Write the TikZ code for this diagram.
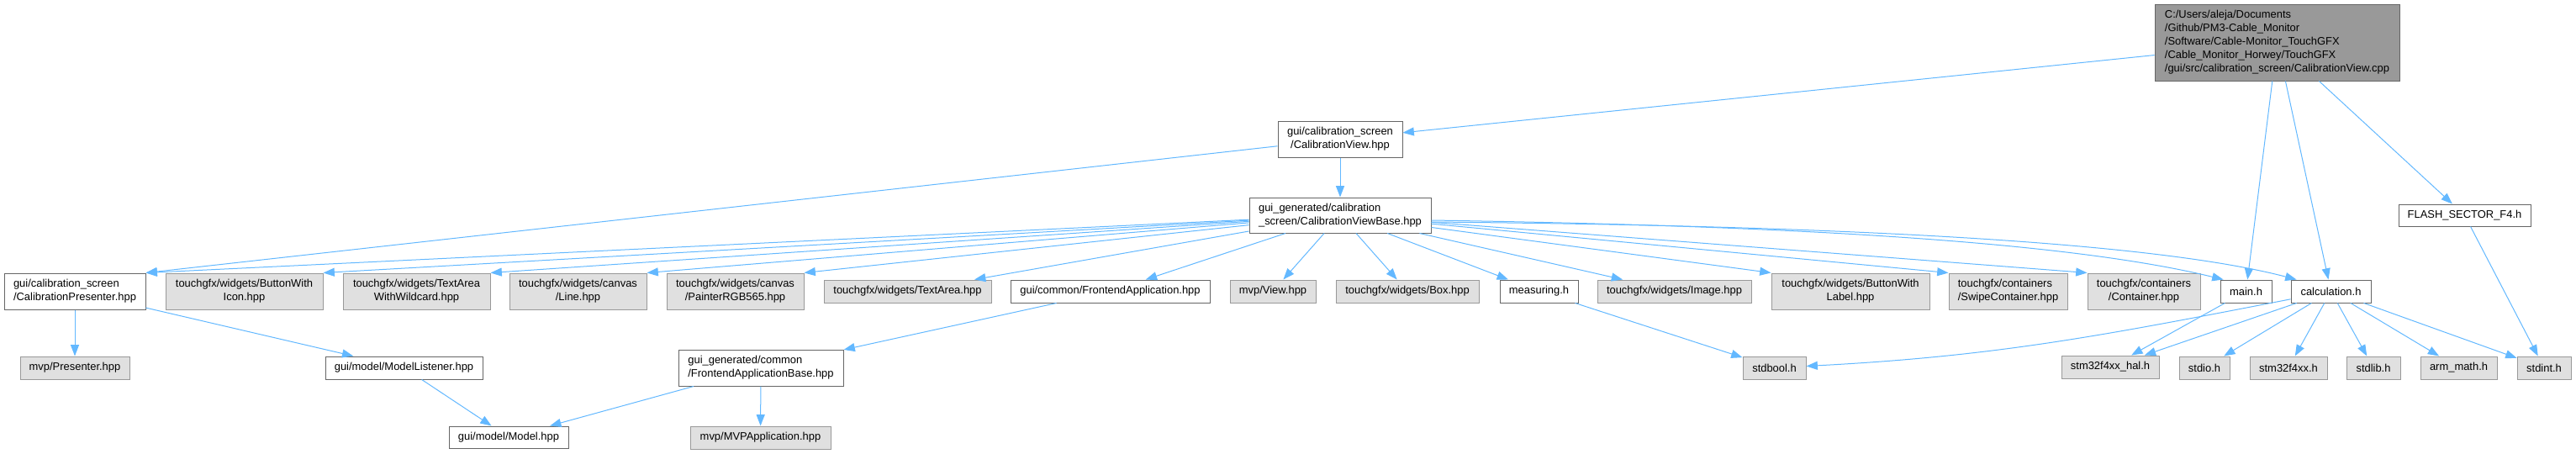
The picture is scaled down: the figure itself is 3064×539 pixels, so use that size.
\documentclass[tikz,border=0pt]{standalone}
\usepackage{fontspec}
\setmainfont{Liberation Sans}
\usetikzlibrary{arrows.meta,calc}
\definecolor{edgec}{HTML}{63B8FF}
\definecolor{grayfill}{HTML}{E0E0E0}
\definecolor{grayline}{HTML}{999999}
\definecolor{darkline}{HTML}{666666}
\definecolor{rootfill}{HTML}{999999}
\newcommand{\bx}[7]{\node[#6, minimum width={(#4-#2)*0.75pt}, minimum height={(#5-#3)*0.75pt}] (#1) at ({(#2+#4)/2},{(#3+#5)/2}) {#7};}
\tikzset{
  nodebase/.style={draw, line width=0.75pt, inner sep=0pt, font=\fontsize{9.7}{12}\selectfont},
  wbox/.style={nodebase, draw=darkline, fill=white, align=center},
  wboxl/.style={nodebase, draw=darkline, fill=white, align=left},
  gbox/.style={nodebase, draw=grayline, fill=grayfill, align=center},
  gboxl/.style={nodebase, draw=grayline, fill=grayfill, align=left},
  rbox/.style={nodebase, draw=darkline, fill=rootfill, align=left},
  edge/.style={draw=edgec, line width=0.75pt, -{Triangle[length=10pt,width=7.5pt]}, shorten >=0pt}
}
\begin{document}
\begin{tikzpicture}[x=0.75pt,y=-0.75pt]
\useasboundingbox (0,0) rectangle (3064,539);
% nodes
\bx{root}{2563}{5}{2854}{96}{rbox}{C:/Users/aleja/Documents\\/Github/PM3-Cable\_Monitor\\/Software/Cable-Monitor\_TouchGFX\\/Cable\_Monitor\_Horwey/TouchGFX\\/gui/src/calibration\_screen/CalibrationView.cpp}
\bx{cv}{1520}{144}{1668}{187}{wbox}{gui/calibration\_screen\\/CalibrationView.hpp}
\bx{cvb}{1486}{235}{1702}{277}{wboxl}{gui\_generated/calibration\\\_screen/CalibrationViewBase.hpp}
\bx{cp}{5}{325}{173}{368}{wboxl}{gui/calibration\_screen\\/CalibrationPresenter.hpp}
\bx{bwi}{197}{325}{384}{368}{gbox}{touchgfx/widgets/ButtonWith\\Icon.hpp}
\bx{taw}{408}{325}{583}{368}{gbox}{touchgfx/widgets/TextArea\\WithWildcard.hpp}
\bx{line}{606}{325}{769}{368}{gbox}{touchgfx/widgets/canvas\\/Line.hpp}
\bx{painter}{793}{325}{956}{368}{gbox}{touchgfx/widgets/canvas\\/PainterRGB565.hpp}
\bx{ta}{980}{333}{1179}{360}{gbox}{touchgfx/widgets/TextArea.hpp}
\bx{fa}{1202}{333}{1439}{360}{wbox}{gui/common/FrontendApplication.hpp}
\bx{view}{1463}{333}{1565}{360}{gbox}{mvp/View.hpp}
\bx{boxh}{1589}{333}{1759}{360}{gbox}{touchgfx/widgets/Box.hpp}
\bx{meas}{1784}{333}{1877}{360}{wbox}{measuring.h}
\bx{img}{1900}{333}{2083}{360}{gbox}{touchgfx/widgets/Image.hpp}
\bx{bwl}{2107}{325}{2295}{368}{gbox}{touchgfx/widgets/ButtonWith\\Label.hpp}
\bx{swipe}{2318}{325}{2459}{368}{gboxl}{touchgfx/containers\\/SwipeContainer.hpp}
\bx{cont}{2483}{325}{2617}{368}{gbox}{touchgfx/containers\\/Container.hpp}
\bx{mainh}{2641}{333}{2702}{360}{wbox}{main.h}
\bx{calc}{2725}{333}{2820}{360}{wbox}{calculation.h}
\bx{flash}{2853}{243}{3010}{269}{wbox}{FLASH\_SECTOR\_F4.h}
\bx{pres}{24}{424}{154}{451}{gbox}{mvp/Presenter.hpp}
\bx{ml}{387}{424}{574}{451}{wbox}{gui/model/ModelListener.hpp}
\bx{fab}{807}{416}{1003}{459}{wboxl}{gui\_generated/common\\/FrontendApplicationBase.hpp}
\bx{stdbool}{2073}{424}{2148}{451}{gbox}{stdbool.h}
\bx{hal}{2452}{423}{2568}{450}{gbox}{stm32f4xx\_hal.h}
\bx{stdio}{2592}{424}{2652}{451}{gbox}{stdio.h}
\bx{stm}{2676}{424}{2768}{451}{gbox}{stm32f4xx.h}
\bx{stdlib}{2791}{424}{2855}{451}{gbox}{stdlib.h}
\bx{arm}{2879}{424}{2970}{451}{gbox}{arm\_math.h}
\bx{stdint}{2994}{424}{3058}{451}{gbox}{stdint.h}
\bx{model}{534}{507}{676}{533}{wbox}{gui/model/Model.hpp}
\bx{mvpa}{821}{507}{988}{534}{gbox}{mvp/MVPApplication.hpp}
% edges from root
\draw[edge] (root) -- (cv);
\draw[edge] (root) -- (mainh);
\draw[edge] (root) -- (calc);
\draw[edge] (root) -- (flash);
% edges from cv
\draw[edge] (cv) -- (cvb);
\draw[edge] (cv) -- (cp.north east);
% edges from cvb
\draw[edge] (cvb) -- (cp.north east);
\draw[edge] (cvb) -- (bwi.north east);
\draw[edge] (cvb) -- (taw.north east);
\draw[edge] (cvb) -- (line.north east);
\draw[edge] (cvb) -- (painter.north east);
\draw[edge] (cvb) -- (ta);
\draw[edge] (cvb) -- (fa);
\draw[edge] (cvb) -- (view);
\draw[edge] (cvb) -- (boxh);
\draw[edge] (cvb) -- (meas);
\draw[edge] (cvb) -- (img);
\draw[edge] (cvb) -- (bwl.north west);
\draw[edge] (cvb) -- (swipe.north west);
\draw[edge] (cvb) -- (cont.north west);
\draw[edge] ($(cvb.east)+(0,6)$) .. controls (2100,268) and (2450,285) .. ($(mainh.north west)+(4,0)$);
\draw[edge] ($(cvb.east)+(0,8)$) .. controls (2150,268) and (2550,285) .. ($(calc.north west)+(7,0)$);
% lower edges
\draw[edge] (cp) -- (pres);
\draw[edge] (cp) -- (ml);
\draw[edge] (ml) -- (model);
\draw[edge] (fa) -- (fab);
\draw[edge] (fab) -- (model);
\draw[edge] (fab) -- (mvpa);
\draw[edge] (meas) -- (stdbool);
\draw[edge] (mainh) -- (hal);
\draw[edge] (calc) to[out=191,in=3] (stdbool);
\draw[edge] (calc) -- (hal);
\draw[edge] (calc) -- (stdio);
\draw[edge] (calc) -- (stm);
\draw[edge] (calc) -- (stdlib);
\draw[edge] (calc) -- (arm);
\draw[edge] (calc) -- (stdint);
\draw[edge] (flash) -- (stdint);
\end{tikzpicture}
\end{document}
